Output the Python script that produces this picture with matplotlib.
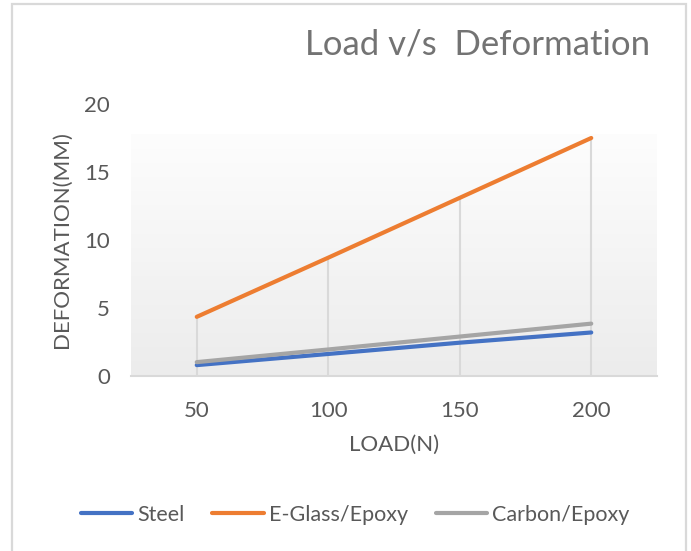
import matplotlib
matplotlib.use("Agg")
import matplotlib.pyplot as plt
import numpy as np
from matplotlib.patches import Rectangle
from matplotlib.lines import Line2D

# data
loads = ["50", "100", "150", "200"]
steel = [0.80, 1.62, 2.45, 3.20]
eglass = [4.35, 8.70, 13.10, 17.50]
carbon = [1.02, 1.95, 2.90, 3.85]

series_names = ["Steel", "E-Glass/Epoxy", "Carbon/Epoxy"]
series_colors = ["#4472C4", "#ED7D31", "#A5A5A5"]

plt.rcParams['font.family'] = ['Lato', 'DejaVu Sans']
text_col = "#595959"

W, H = 691, 551
fig = plt.figure(figsize=(W / 100, H / 100), dpi=100)

# outer chart border
fig.patches.append(Rectangle((12 / W, -0.05), (686 - 12) / W, 1.05 - 4 / H,
                             transform=fig.transFigure, fill=False,
                             edgecolor="#d9d9d9", linewidth=1.6))

ax = fig.add_axes([131 / W, 1 - 376 / H, (657 - 131) / W, (376 - 104) / H])
x = np.arange(len(loads))

# soft grey gradient behind the plot area
grad = np.linspace(0, 1, 256).reshape(-1, 1)
top_frac = (376 - 134) / (376 - 104)
ax.imshow(grad, cmap=matplotlib.colors.LinearSegmentedColormap.from_list(
    "bg", ["#ececec", "#fdfdfd"]), origin="lower", aspect="auto",
    extent=[-0.5, 3.5, 0, 20 * top_frac], zorder=0)

# drop lines from the highest point of each category
tops = np.max([steel, eglass, carbon], axis=0)
ax.vlines(x, 0, tops, color="#d9d9d9", linewidth=1.5, zorder=1)

for vals, name, col in zip([steel, eglass, carbon], series_names, series_colors):
    ax.plot(x, vals, color=col, linewidth=3.0, solid_capstyle="round", label=name, zorder=3)

ax.set_xlim(-0.5, 3.5)
ax.set_ylim(0, 20)
ax.set_yticks([0, 5, 10, 15, 20])
ax.set_xticks(x)
ax.set_xticklabels(loads)
for s in ["top", "right", "left"]:
    ax.spines[s].set_visible(False)
ax.spines["bottom"].set_color("#d9d9d9")
ax.spines["bottom"].set_linewidth(1.5)
ax.tick_params(axis="both", length=0, labelsize=16, labelcolor=text_col)
ax.tick_params(axis="x", pad=18)
ax.tick_params(axis="y", pad=15)
ax.set_facecolor("none")

ax.set_xlabel("LOAD(N)", fontsize=16, color=text_col, labelpad=10)
ax.set_ylabel("DEFORMATION(MM)", fontsize=16, color=text_col, labelpad=9)

fig.text(478 / W, 1 - 45 / H, "Load v/s  Deformation", fontsize=25, color="#737373",
         ha="center", va="center")

handles = [Line2D([0], [0], color=c, linewidth=3, solid_capstyle="round") for c in series_colors]
fig.legend(handles, series_names, loc="center", bbox_to_anchor=(355 / W, 1 - 515 / H),
           ncol=3, frameon=False, fontsize=15.5, labelcolor=text_col,
           handlelength=2.4, handletextpad=0.22, columnspacing=1.3)

fig.savefig("out.png", dpi=100)
